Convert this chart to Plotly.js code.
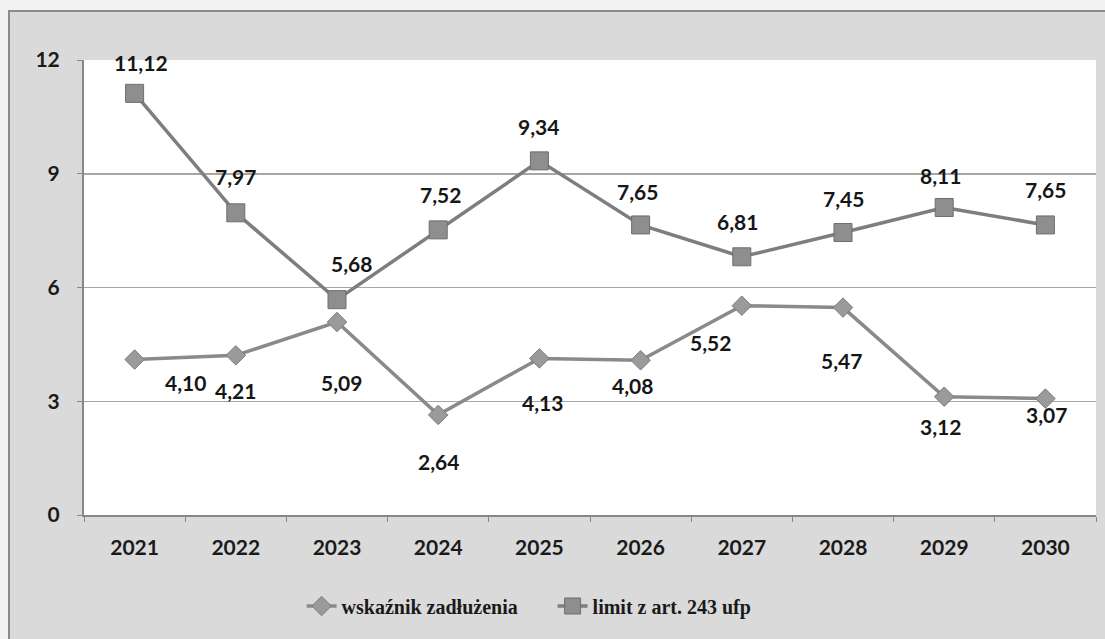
<!DOCTYPE html>
<html>
<head>
<meta charset="utf-8">
<script src="https://cdn.plot.ly/plotly-3.0.1.min.js"></script>
<style>
  html, body { margin: 0; padding: 0; background: #f2f2f2; width: 1105px; height: 639px; overflow: hidden; }
  #frame { position: absolute; left: 8px; top: 10px; width: 1095px; height: 627px;
           border-left: 2px solid #8a8a8a; border-top: 2px solid #8a8a8a; background: #dadada; }
  #chart { width: 1095px; height: 627px; }
</style>
</head>
<body>
<div id="frame"><div id="chart"></div></div>
<script>
const years = ['2021','2022','2023','2024','2025','2026','2027','2028','2029','2030'];
const wskaznik = [4.10, 4.21, 5.09, 2.64, 4.13, 4.08, 5.52, 5.47, 3.12, 3.07];
const limit = [11.12, 7.97, 5.68, 7.52, 9.34, 7.65, 6.81, 7.45, 8.11, 7.65];
const seriesNames = ['wskaźnik zadłużenia', 'limit z art. 243 ufp'];
const yTicks = [0, 3, 6, 9, 12];

// label offsets (pixels) — styling only
const wskDx = [51, 0, 4, 0, 3, -8, -31, -2, -4, 1];
const wskDy = [23, 35, 60, 47, 44, 25, 37, 53, 30, 16];
const limDx = [6, 0, 14, 2, -1, -3, -4, 0, -4, 0];
const limDy = [-31, -36, -36, -35, -34, -33, -35, -34, -32, -35];

const fmt = v => v.toFixed(2).replace('.', ',');
const labelFont = {family: 'Lato, "Open Sans", sans-serif', size: 21, color: '#161616', weight: 'bold'};

// annotations use the category index on the category axis
const annotations = [];
years.forEach((y, i) => {
  annotations.push({xref: 'x', yref: 'y', x: i, y: wskaznik[i], text: '<b>' + fmt(wskaznik[i]) + '</b>', showarrow: false,
    xshift: wskDx[i], yshift: -wskDy[i], font: labelFont});
  annotations.push({xref: 'x', yref: 'y', x: i, y: limit[i], text: '<b>' + fmt(limit[i]) + '</b>', showarrow: false,
    xshift: limDx[i], yshift: -limDy[i], font: labelFont});
});

const traces = [
  {x: years, y: wskaznik, name: seriesNames[0], type: 'scatter', mode: 'lines+markers',
   line: {color: '#8a8a8a', width: 3.5},
   marker: {symbol: 'diamond', size: 15, color: '#9a9a9a', line: {color: '#7c7c7c', width: 1}}},
  {x: years, y: limit, name: seriesNames[1], type: 'scatter', mode: 'lines+markers',
   line: {color: '#7e7e7e', width: 3.5},
   marker: {symbol: 'square', size: 18, color: '#8e8e8e', line: {color: '#6e6e6e', width: 1}}}
];

const tickFont = {family: 'Lato, "Open Sans", sans-serif', size: 21, color: '#1a1a1a', weight: 'bold'};

const layout = {
  width: 1095, height: 627,
  margin: {l: 74, r: 9, t: 48, b: 124},
  paper_bgcolor: '#dadada',
  plot_bgcolor: '#ffffff',
  showlegend: true,
  legend: {orientation: 'h', x: 0.215, xanchor: 'left', y: -0.2, yanchor: 'middle',
           font: {family: '"Liberation Serif", serif', size: 20, color: '#1a1a1a', weight: 'bold'},
           bgcolor: 'rgba(0,0,0,0)', entrywidth: 206},
  xaxis: {type: 'category', categoryorder: 'array', categoryarray: years, range: [-0.5, 9.5],
          autorange: false, tickangle: 0, tickson: 'boundaries',
          ticks: 'outside', ticklen: 5, tickcolor: '#888', ticklabelstandoff: 13,
          showline: true, linecolor: '#888', linewidth: 2, showgrid: false, zeroline: false,
          tickfont: tickFont},
  yaxis: {range: [0, 12], autorange: false, tickvals: yTicks, ticks: 'outside', ticklen: 5,
          tickcolor: '#888', showline: true, linecolor: '#888', linewidth: 2, ticklabelstandoff: 13,
          showgrid: true, gridcolor: '#a6a6a6', gridwidth: 1.5, zeroline: false,
          tickfont: tickFont},
  annotations: annotations
};

Plotly.newPlot('chart', traces, layout, {displayModeBar: false, staticPlot: true});
</script>
</body>
</html>
